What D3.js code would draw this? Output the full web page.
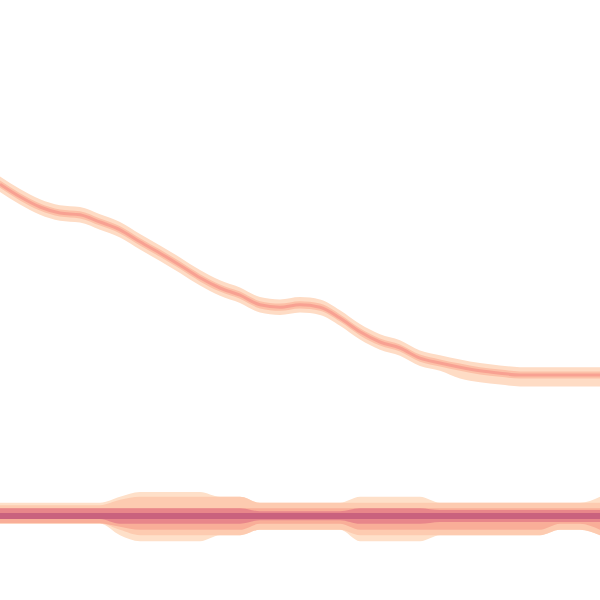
<!DOCTYPE html>
<html>
<head>
<meta charset="utf-8">
<script src="https://cdn.jsdelivr.net/npm/d3@7"></script>
<style>
  html, body { margin: 0; padding: 0; background: #fff; }
  svg { display: block; }
</style>
</head>
<body>
<svg id="chart" width="600" height="600"></svg>
<script>
// time steps
const steps = [0, 1, 2, 3, 4, 5, 6, 7, 8, 9, 10, 11, 12, 13, 14, 15, 16, 17, 18, 19, 20, 21, 22, 23, 24, 25, 26, 27, 28, 29, 30];

// upper series: median and bands
const upperMedian = [69.3, 67.2, 65.5, 64.5, 64.2, 63.0, 61.7, 59.7, 57.8, 55.8, 53.7, 52.0, 50.8, 49.2, 48.8, 49.2, 48.8, 47.0, 44.7, 43.0, 42.0, 40.3, 39.5, 38.8, 38.2, 37.8, 37.5, 37.5, 37.5, 37.5, 37.5];
const upperHi95 = [70.6, 68.5, 66.8, 65.8, 65.5, 64.3, 63.0, 61.0, 59.1, 57.1, 55.0, 53.3, 52.1, 50.5, 50.1, 50.5, 50.1, 48.3, 46.0, 44.3, 43.3, 41.6, 40.8, 40.1, 39.5, 39.1, 38.8, 38.8, 38.8, 38.8, 38.8];
const upperLo95 = [68.0, 65.9, 64.2, 63.2, 62.9, 61.7, 60.4, 58.4, 56.5, 54.5, 52.4, 50.7, 49.5, 47.9, 47.5, 47.9, 47.5, 45.7, 43.4, 41.7, 40.7, 39.0, 38.2, 36.9, 36.3, 35.9, 35.6, 35.6, 35.6, 35.6, 35.6];
const upperHi50 = [69.9, 67.8, 66.1, 65.1, 64.8, 63.6, 62.3, 60.3, 58.4, 56.4, 54.3, 52.6, 51.4, 49.8, 49.4, 49.8, 49.4, 47.6, 45.3, 43.6, 42.6, 40.9, 40.1, 39.4, 38.8, 38.4, 38.1, 38.1, 38.1, 38.1, 38.1];
const upperLo50 = [68.7, 66.6, 64.9, 63.9, 63.6, 62.4, 61.1, 59.1, 57.2, 55.2, 53.1, 51.4, 50.2, 48.6, 48.2, 48.6, 48.2, 46.4, 44.1, 42.4, 41.4, 39.7, 38.9, 38.2, 37.6, 37.2, 36.9, 36.9, 36.9, 36.9, 36.9];

// lower series: median and quantile bands
const lowerMedian = [14.0, 14.0, 14.0, 14.0, 14.0, 14.0, 14.0, 14.0, 14.0, 14.0, 14.0, 14.0, 14.0, 14.0, 14.0, 14.0, 14.0, 14.0, 14.0, 14.0, 14.0, 14.0, 14.0, 14.0, 14.0, 14.0, 14.0, 14.0, 14.0, 14.0, 14.0];
const lowerHiA = [16.2, 16.2, 16.2, 16.2, 16.2, 16.2, 17.2, 18.0, 18.0, 18.0, 18.0, 17.2, 17.2, 16.2, 16.2, 16.2, 16.2, 16.2, 17.2, 17.2, 17.2, 17.2, 16.2, 16.2, 16.2, 16.2, 16.2, 16.2, 16.2, 16.2, 17.2];
const lowerLoA = [12.7, 12.7, 12.7, 12.7, 12.7, 12.7, 10.8, 9.8, 9.8, 9.8, 9.8, 10.8, 10.8, 11.7, 11.7, 11.7, 11.7, 11.7, 9.8, 9.8, 9.8, 9.8, 10.8, 10.8, 10.8, 10.8, 10.8, 10.8, 11.7, 11.7, 10.8];
const lowerHiB = [15.8, 15.8, 15.8, 15.8, 15.8, 15.8, 16.7, 17.2, 17.2, 17.2, 17.2, 17.2, 17.2, 16.2, 16.2, 16.2, 16.2, 16.2, 16.2, 16.2, 16.2, 16.2, 16.2, 16.2, 16.2, 16.2, 16.2, 16.2, 16.2, 16.2, 16.2];
const lowerLoB = [12.8, 12.8, 12.8, 12.8, 12.8, 12.8, 11.7, 10.8, 10.8, 10.8, 10.8, 10.8, 10.8, 11.7, 11.7, 11.7, 11.7, 11.7, 10.8, 10.8, 10.8, 10.8, 10.8, 10.8, 10.8, 10.8, 10.8, 10.8, 11.7, 11.7, 10.8];
const lowerHiC = [15.3, 15.3, 15.3, 15.3, 15.3, 15.3, 15.3, 15.3, 15.3, 15.3, 15.3, 15.3, 15.3, 15.3, 15.3, 15.3, 15.3, 15.3, 15.3, 15.3, 15.3, 15.3, 15.3, 15.3, 15.3, 15.3, 15.3, 15.3, 15.3, 15.3, 15.3];
const lowerLoC = [12.8, 12.8, 12.8, 12.8, 12.8, 12.8, 12.2, 11.7, 11.7, 11.7, 11.7, 11.7, 11.7, 12.7, 12.7, 12.7, 12.7, 12.7, 11.7, 11.7, 11.7, 11.7, 11.7, 11.7, 11.7, 11.7, 11.7, 11.7, 12.7, 12.7, 11.7];
const lowerHiD = [15.3, 15.3, 15.3, 15.3, 15.3, 15.3, 15.3, 15.3, 15.3, 15.3, 15.3, 15.3, 15.3, 14.8, 14.8, 14.8, 14.8, 14.8, 15.3, 15.3, 15.3, 15.3, 15.0, 15.0, 15.0, 15.0, 15.0, 15.0, 15.0, 15.0, 15.0];
const lowerLoD = [13.5, 13.5, 13.5, 13.5, 13.5, 13.5, 12.7, 12.7, 12.7, 12.7, 12.7, 12.7, 12.7, 13.3, 13.3, 13.3, 13.3, 13.3, 12.7, 12.7, 12.7, 12.7, 13.0, 13.0, 13.0, 13.0, 13.0, 13.0, 13.0, 13.0, 13.0];

const width = 600;
const height = 600;

const x = d3.scaleLinear().domain([0, 30]).range([0, width]);
const y = d3.scaleLinear().domain([0, 100]).range([height, 0]);

const svg = d3.select("#chart");

const band = (lo, hi) => d3.area()
  .curve(d3.curveMonotoneX)
  .x((d, i) => x(steps[i]))
  .y0((d, i) => y(lo[i]))
  .y1((d, i) => y(hi[i]))(steps);

const line = (vals) => d3.line()
  .curve(d3.curveMonotoneX)
  .x((d, i) => x(steps[i]))
  .y((d, i) => y(vals[i]))(steps);

// lower series
svg.append("path").attr("d", band(lowerLoA, lowerHiA)).attr("fill", "#fee0c9");
svg.append("path").attr("d", band(lowerLoB, lowerHiB)).attr("fill", "#fdcbb0");
svg.append("path").attr("d", band(lowerLoC, lowerHiC)).attr("fill", "#f9ae98");
svg.append("path").attr("d", band(lowerLoD, lowerHiD)).attr("fill", "#e8868a");
svg.append("path").attr("d", line(lowerMedian))
  .attr("fill", "none").attr("stroke", "#c9627e").attr("stroke-width", 6);

// upper series
svg.append("path").attr("d", band(upperLo95, upperHi95)).attr("fill", "#fedcc5");
svg.append("path").attr("d", band(upperLo50, upperHi50)).attr("fill", "#fcc0a7");
svg.append("path").attr("d", line(upperMedian))
  .attr("fill", "none").attr("stroke", "#f8a192").attr("stroke-width", 3);
</script>
</body>
</html>
